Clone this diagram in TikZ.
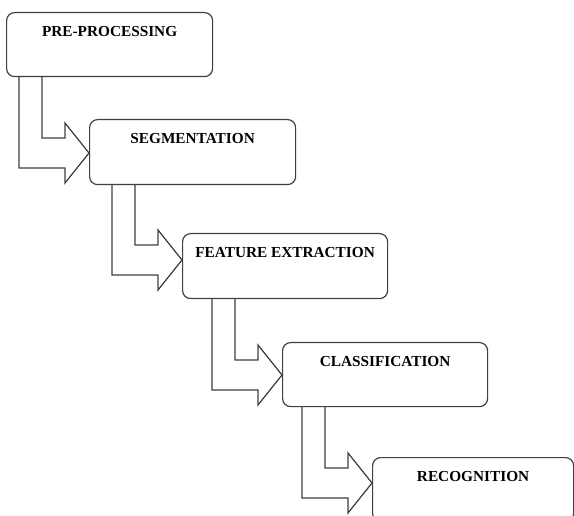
\documentclass[tikz,border=0pt]{standalone}
\usepackage{fontspec}
\setmainfont{Liberation Serif}
\usetikzlibrary{calc}
\tikzset{
  x=1pt, y=-1pt,
  stagebox/.style={draw=black!75, line width=1.2pt, rounded corners=8pt, fill=white,
    anchor=north west, inner sep=0pt, minimum width=#1},
  stagebox/.default=206pt,
  stagetext/.style={anchor=base, font=\bfseries\fontsize{15.3pt}{17pt}\selectfont, text=black, inner sep=0pt},
  blockline/.style={draw=black!75, line width=1.2pt, line join=miter}
}
\newcommand\blockarrow[3]{%
  \draw[blockline] let \p1=($(#2.north west)+(0,#3)$), \p2=(#1.south) in
    (\x1-70pt,\y2) -- (\x1-70pt,\y1-15pt) -- (\x1-24pt,\y1-15pt) -- (\x1-24pt,\y1-30pt)
    -- (\x1,\y1) -- (\x1-24pt,\y1+30pt) -- (\x1-24pt,\y1+15pt) -- (\x1-47pt,\y1+15pt)
    -- (\x1-47pt,\y2);
}
\begin{document}
\begin{tikzpicture}
\useasboundingbox (0,0) rectangle (574,516);
\clip (0,0) rectangle (574,516);
\fill[white] (0,0) rectangle (574,516);

\node[stagebox=206pt, minimum height=64pt] (pre) at (6,12) {};
\node[stagebox=206pt, minimum height=65pt] (seg) at (89,119) {};
\node[stagebox=205pt, minimum height=65pt] (feat) at (182,233) {};
\node[stagebox=205pt, minimum height=64pt] (cls) at (282,342) {};
\node[stagebox=201pt, minimum height=64pt] (rec) at (372,457) {};

\node[stagetext] (pre-t) at ($(pre.north)+(0,24.5)$) {PRE-PROCESSING};
\node[stagetext] (seg-t) at ($(seg.north)+(0,25)$) {SEGMENTATION};
\node[stagetext] (feat-t) at ($(feat.north)+(0,25)$) {FEATURE EXTRACTION};
\node[stagetext] (cls-t) at ($(cls.north)+(0,24.5)$) {CLASSIFICATION};
\node[stagetext] (rec-t) at ($(rec.north)+(0,24)$) {RECOGNITION};

\blockarrow{pre}{seg}{34}
\blockarrow{seg}{feat}{27}
\blockarrow{feat}{cls}{33}
\blockarrow{cls}{rec}{26}
\end{tikzpicture}
\end{document}
